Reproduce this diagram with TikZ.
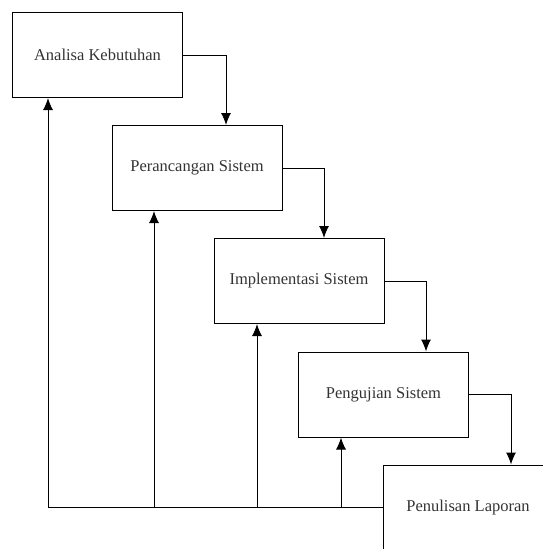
\documentclass[tikz,border=0pt]{standalone}
\usepackage{fontspec}
\setmainfont{Liberation Serif}
\usetikzlibrary{arrows.meta}

\begin{document}
\begin{tikzpicture}[
        x=1pt, y=-1pt, % satuan piksel, y ke bawah
        tahap/.style={draw, line width=1pt, minimum width=170pt, minimum height=85pt,
                      font=\fontsize{16.5}{19}\selectfont, text=black!80}, % Kotak tahapan
        panah/.style={line width=1pt, -{Latex[length=12pt,width=10pt]}},
    ]
    \useasboundingbox (0,0) rectangle (542,549);

    \node[tahap] (analisa) at (97.5,55) {Analisa Kebutuhan};
    \node[tahap] (rancang) at (197,168) {Perancangan Sistem};
    \node[tahap] (impl) at (299,281) {Implementasi Sistem};
    \node[tahap] (uji) at (383.5,394.5) {Pengujian Sistem};
    \node[tahap] (laporan) at (468,507.5) {Penulisan Laporan};

    % alur ke bawah
    \draw[panah] (analisa.east) -| ([xshift=29pt]rancang.north);
    \draw[panah] (rancang.east) -| ([xshift=25pt]impl.north);
    \draw[panah] (impl.east) -| ([xshift=42.5pt]uji.north);
    \draw[panah] (uji.east) -| ([xshift=43pt]laporan.north);

    % alur balik
    \coordinate (k1) at ([xshift=-49.5pt]analisa.south);
    \coordinate (k2) at ([xshift=-43pt]rancang.south);
    \coordinate (k3) at ([xshift=-42pt]impl.south);
    \coordinate (k4) at ([xshift=-42.5pt]uji.south);
    \draw[panah] (laporan.west) -| (k1);
    \draw[panah] (k2 |- laporan.west) -- (k2);
    \draw[panah] (k3 |- laporan.west) -- (k3);
    \draw[panah] (k4 |- laporan.west) -- (k4);
\end{tikzpicture}
\end{document}
